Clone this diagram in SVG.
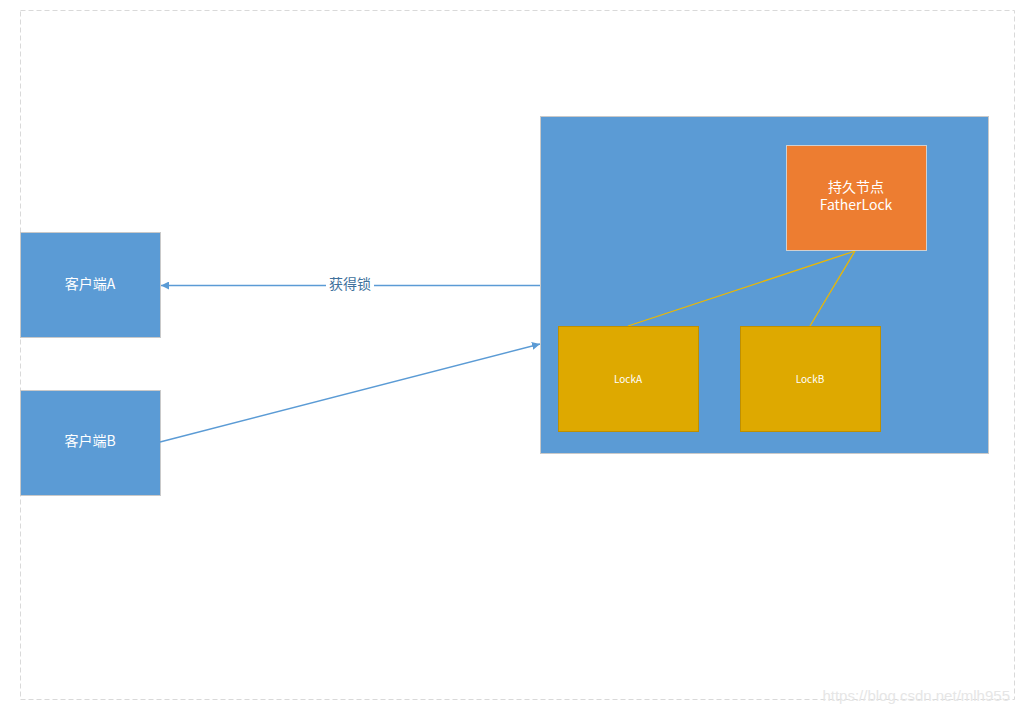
<svg xmlns="http://www.w3.org/2000/svg" width="1019" height="714" viewBox="0 0 1019 714">
<defs>
<style>
.box{fill:#5b9bd5;stroke:#c9c9c9;stroke-width:1}
.lock{fill:#dea900;stroke:#bf8f00;stroke-width:1}
.t{font-family:"Noto Sans CJK SC","Liberation Sans",sans-serif;fill:#ffffff;text-anchor:middle}
.conn{stroke:#5b9bd5;stroke-width:1.3;fill:none}
.yl{stroke:#ecb800;stroke-width:1.3;fill:none}
</style>
<marker id="ah" viewBox="0 0 10 10" refX="10" refY="5" markerWidth="8" markerHeight="8" markerUnits="userSpaceOnUse" orient="auto">
<path d="M0,0 L10,5 L0,10 z" fill="#5b9bd5"/>
</marker>
</defs>
<rect x="0" y="0" width="1019" height="714" fill="#ffffff"/>
<rect x="20.5" y="10.5" width="994" height="689" fill="none" stroke="#d9d9d9" stroke-dasharray="5,3"/>
<g id="server">
<rect class="box" x="540.5" y="116.5" width="448" height="337"/>
</g>
<g id="clientA">
<rect class="box" x="20.5" y="232.5" width="140" height="105"/>
<text class="t" x="90" y="289" font-size="14">客户端A</text>
</g>
<g id="clientB">
<rect class="box" x="20.5" y="390.5" width="140" height="105"/>
<text class="t" x="90" y="446" font-size="14">客户端B</text>
</g>
<g id="connectors">
<line class="conn" x1="540" y1="285.5" x2="161" y2="285.5" marker-end="url(#ah)"/>
<rect x="326" y="275" width="48" height="20" fill="#ffffff"/>
<text x="350" y="289" font-size="14" font-family="Noto Sans CJK SC,Liberation Sans,sans-serif" fill="#41719c" text-anchor="middle">获得锁</text>
<line class="conn" x1="160" y1="442" x2="540" y2="344" marker-end="url(#ah)"/>
<line class="yl" x1="628" y1="326" x2="855" y2="251"/>
<line class="yl" x1="810" y1="326" x2="855" y2="251"/>
</g>
<g id="fatherLock">
<rect x="786.5" y="145.5" width="140" height="105" fill="#ed7d31" stroke="#d0d0d0"/>
<text class="t" x="856" y="192" font-size="14">持久节点</text>
<text class="t" x="856" y="210" font-size="14">FatherLock</text>
</g>
<g id="lockA">
<rect class="lock" x="558.5" y="326.5" width="140" height="105"/>
<text class="t" x="628" y="383" font-size="10">LockA</text>
</g>
<g id="lockB">
<rect class="lock" x="740.5" y="326.5" width="140" height="105"/>
<text class="t" x="810" y="383" font-size="10">LockB</text>
</g>
<text x="1010" y="701" font-size="15" font-family="Liberation Sans,sans-serif" fill="#e6e6e6" text-anchor="end">https://blog.csdn.net/mlh955</text>
</svg>
